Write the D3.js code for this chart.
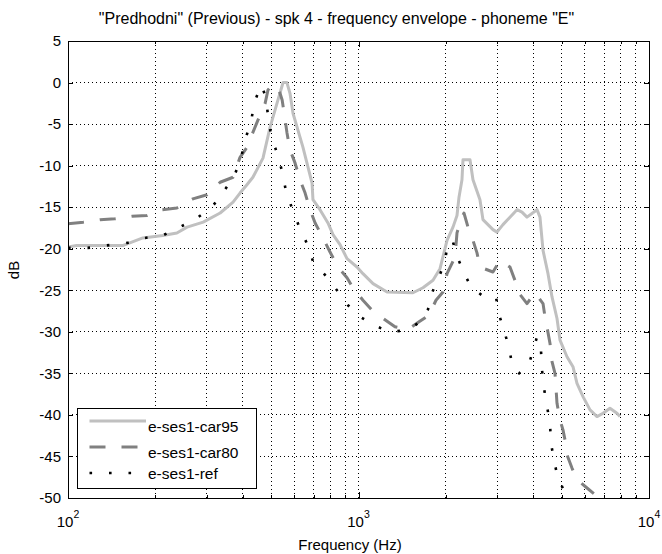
<!DOCTYPE html>
<html>
<head>
<meta charset="utf-8">
<script src="https://cdnjs.cloudflare.com/ajax/libs/d3/7.8.5/d3.min.js"></script>
<style>
body{margin:0;background:#fff;}
svg text{font-family:"Liberation Sans",Arial,Helvetica,sans-serif;fill:#000;}
</style>
</head>
<body>
<svg id="chart" width="662" height="554"></svg>
<script>

/*
 *** Chart data
 */
var chartTitle = '"Predhodni" (Previous) - spk 4 - frequency envelope - phoneme "E"';
var xLabel = "Frequency (Hz)";
var yLabel = "dB";
var seriesNames = ["e-ses1-car95", "e-ses1-car80", "e-ses1-ref"];

var car95Freq = [100,107,129,155,181,212,237,257,292,334,370,391,413,433,469,496,524,550,567,581,
    595,644,692,697,737,785,817,864,913,988,1036,1122,1254,1540,1667,1805,1908,2017,2115,2183,
    2218,2271,2289,2420,2478,2619,2682,2903,2997,3143,3322,3512,3654,3802,4116,4214,4317,4491,4636,4823,
    4939,5220,5474,5651,5927,6266,6622,6945,7339,7758,7945];
var car95Db = [-19.8,-19.6,-19.6,-19.6,-18.7,-18.4,-18.1,-17.4,-16.8,-15.7,-14.4,-13.3,-12.3,-11.4,-9.1,-5.4,-2.5,0,0,-1.3,
    -3.7,-7.8,-12.1,-14.1,-15.3,-16.9,-18.3,-19.5,-21.2,-22.2,-23.0,-24.2,-25.2,-25.3,-24.7,-23.8,-22.4,-19.0,-17.4,-16.0,
    -13.8,-11.7,-9.3,-9.3,-11.7,-14.1,-16.5,-17.7,-18.0,-17.1,-16.2,-15.3,-15.6,-16.2,-15.3,-16.2,-20.2,-23.0,-25.8,-28.4,
    -31.0,-33.0,-34.2,-36.2,-37.8,-39.4,-40.2,-39.8,-39.2,-39.8,-40.2];

var car80Freq = [100,113,129,145,166,187,211,237,269,301,334,370,391,413,433,451,477,488,504,528,
    546,558,567,581,605,629,655,681,709,755,798,850,913,957,1036,1113,1205,1335,1481,1616,
    1749,1848,1954,2017,2149,2183,2253,2307,2382,2478,2558,2619,2903,3069,3322,3456,3540,3802,4050,4317,
    4385,4491,4563,4636,4747,4785,4823,4939,5057,5138,5220,5431,5651,6119,6518,7055,7516,8136];
var car80Db = [-17.0,-16.8,-16.5,-16.4,-16.1,-16.0,-15.3,-15.1,-14.0,-13.5,-12.0,-11.4,-9.0,-7.8,-6.0,-4.5,-2.5,-0.9,-0.3,-0.5,
    -2.1,-4.3,-6.0,-8.1,-9.7,-11.7,-13.3,-15.3,-16.9,-18.7,-20.4,-22.2,-23.5,-24.7,-26.2,-27.4,-28.3,-29.4,-29.7,-28.8,
    -28.0,-26.2,-25.2,-23.0,-21.0,-18.1,-16.5,-15.7,-17.4,-19.0,-20.5,-22.2,-22.8,-21.4,-22.2,-23.8,-25.2,-26.6,-25.3,-26.6,
    -28.2,-30.1,-31.4,-33.6,-35.0,-36.8,-38.6,-40.6,-41.8,-43.0,-44.8,-46.4,-47.8,-48.8,-49.6,-51.5,-50.2,-49.0];

var refFreq = [100,117,136,160,184,212,243,278,313,342,373,394,407,427,437,462,480,488,500,524,
    546,563,590,624,665,697,773,843,920,1004,1131,1274,1481,1628,1735,1791,1893,1985,2033,2115,
    2183,2307,2439,2682,2973,3045,3168,3296,3375,3568,3833,3987,4116,4249,4283,4350,4454,4563,4599,4710,
    4823,5057,5346];
var refDb = [-19.9,-19.9,-19.6,-19.3,-18.7,-18.4,-17.4,-16.3,-15.0,-13.2,-11.3,-9.1,-6.9,-4.7,-2.5,-0.3,-1.7,-4.0,-6.3,-8.5,
    -10.7,-13.1,-15.1,-17.3,-19.4,-21.5,-23.3,-25.0,-26.8,-28.1,-29.2,-30.0,-29.8,-28.8,-27.3,-25.3,-23.4,-21.5,-19.1,-19.2,
    -20.9,-22.9,-24.6,-25.7,-25.8,-27.9,-29.8,-31.9,-33.8,-35.0,-34.2,-32.3,-30.6,-32.3,-34.6,-36.8,-38.9,-41.1,-43.4,-45.5,
    -47.1,-48.9,-52.0];

var yTicks = [5,0,-5,-10,-15,-20,-25,-30,-35,-40,-45,-50];
var xMajorTicks = [100,1000,10000];
var xMajorExponents = ["2","3","4"];
var xMinorTicks = [200,300,400,500,600,700,800,900,2000,3000,4000,5000,6000,7000,8000,9000];


/*
 *** Layout
 */
var plotLeft = 68, plotRight = 649, plotTop = 41, plotBottom = 498;

var svg = d3.select("#chart");

var x = d3.scaleLog().domain([100, 10000]).range([plotLeft, plotRight]);
var y = d3.scaleLinear().domain([-50, 5]).range([plotBottom, plotTop]);


/*
 *** Dotted grid
 */
var grid = svg.append("g")
    .attr("stroke", "#000")
    .attr("stroke-width", 1)
    .attr("stroke-dasharray", "1,3")
    .attr("shape-rendering", "crispEdges");

grid.selectAll(".vgrid")
    .data(xMinorTicks.concat([1000]))
    .enter().append("line")
    .attr("class", "vgrid")
    .attr("x1", function(d){ return x(d); })
    .attr("x2", function(d){ return x(d); })
    .attr("y1", plotTop)
    .attr("y2", plotBottom);

grid.selectAll(".hgrid")
    .data(yTicks.filter(function(d){ return d < 5 && d > -50; }))
    .enter().append("line")
    .attr("class", "hgrid")
    .attr("x1", plotLeft)
    .attr("x2", plotRight)
    .attr("y1", function(d){ return y(d); })
    .attr("y2", function(d){ return y(d); });


/*
 *** Axes: ticks pointing inside, on all four sides
 */
var yAxisLeft = d3.axisLeft(y).tickValues(yTicks).tickSize(-5).tickPadding(7)
    .tickFormat(function(d){ return d; });
var yAxisRight = d3.axisRight(y).tickValues(yTicks).tickSize(-5).tickFormat("");
var xBottomMajor = d3.axisBottom(x).tickValues(xMajorTicks).tickSize(-6).tickFormat("");
var xBottomMinor = d3.axisBottom(x).tickValues(xMinorTicks).tickSize(-3).tickFormat("");
var xTopMajor = d3.axisTop(x).tickValues(xMajorTicks).tickSize(-6).tickFormat("");
var xTopMinor = d3.axisTop(x).tickValues(xMinorTicks).tickSize(-3).tickFormat("");

function drawAxis(axis, tx, ty){
    var g = svg.append("g")
        .attr("transform", "translate(" + tx + "," + ty + ")")
        .attr("shape-rendering", "crispEdges")
        .call(axis);
    g.select(".domain").remove();
    g.selectAll("line").attr("stroke", "#000");
    g.selectAll("text")
        .attr("font-size", "15px")
        .attr("font-family", "'Liberation Sans', Arial, sans-serif");
    return g;
}

drawAxis(yAxisLeft, plotLeft, 0);
drawAxis(yAxisRight, plotRight, 0);
drawAxis(xBottomMajor, 0, plotBottom);
drawAxis(xBottomMinor, 0, plotBottom);
drawAxis(xTopMajor, 0, plotTop);
drawAxis(xTopMinor, 0, plotTop);

// 10^n labels under the bottom axis
var xLabels = svg.selectAll(".xTickLabel")
    .data(xMajorTicks)
    .enter().append("text")
    .attr("class", "xTickLabel")
    .attr("x", function(d){ return x(d); })
    .attr("y", 527)
    .attr("text-anchor", "middle")
    .attr("font-size", "15px");
xLabels.append("tspan").text("10");
xLabels.append("tspan")
    .attr("dy", -9)
    .attr("font-size", "10.5px")
    .text(function(d, i){ return xMajorExponents[i]; });


/*
 *** Data lines
 */
svg.append("clipPath").attr("id", "plotClip")
    .append("rect")
    .attr("x", plotLeft).attr("y", plotTop)
    .attr("width", plotRight - plotLeft).attr("height", plotBottom - plotTop);

var line = d3.line()
    .x(function(d){ return x(d[0]); })
    .y(function(d){ return y(d[1]); });

function zipSeries(freq, db){
    return freq.map(function(f, i){ return [f, db[i]]; });
}

var seriesStyles = [
    {color: "#c0c0c0", width: 3, dash: null},
    {color: "#808080", width: 3, dash: "16,16"},
    {color: "#000000", width: 2.6, dash: "2.6,16.9"}
];
var seriesData = [
    zipSeries(car95Freq, car95Db),
    zipSeries(car80Freq, car80Db),
    zipSeries(refFreq, refDb)
];

svg.append("g")
    .attr("clip-path", "url(#plotClip)")
    .selectAll("path")
    .data(seriesData)
    .enter().append("path")
    .attr("d", line)
    .attr("fill", "none")
    .attr("stroke", function(d, i){ return seriesStyles[i].color; })
    .attr("stroke-width", function(d, i){ return seriesStyles[i].width; })
    .attr("stroke-dasharray", function(d, i){ return seriesStyles[i].dash; })
    .attr("stroke-linejoin", "round");


/*
 *** Frame, title and axis labels
 */
svg.append("rect")
    .attr("x", plotLeft).attr("y", plotTop)
    .attr("width", plotRight - plotLeft).attr("height", plotBottom - plotTop)
    .attr("fill", "none")
    .attr("stroke", "#000")
    .attr("stroke-width", 1)
    .attr("shape-rendering", "crispEdges");

svg.append("text")
    .attr("x", 336.5)
    .attr("y", 24)
    .attr("text-anchor", "middle")
    .attr("font-size", "16px")
    .text(chartTitle);

svg.append("text")
    .attr("x", 350)
    .attr("y", 550)
    .attr("text-anchor", "middle")
    .attr("font-size", "15px")
    .text(xLabel);

svg.append("text")
    .attr("transform", "translate(19,270) rotate(-90)")
    .attr("text-anchor", "middle")
    .attr("font-size", "15px")
    .text(yLabel);


/*
 *** Legend
 */
var legend = svg.append("g");

legend.append("rect")
    .attr("x", 77).attr("y", 408)
    .attr("width", 179).attr("height", 80)
    .attr("fill", "#fff")
    .attr("stroke", "#000")
    .attr("stroke-width", 1)
    .attr("shape-rendering", "crispEdges");

var legendRows = legend.selectAll(".legendRow")
    .data(seriesNames)
    .enter().append("g")
    .attr("class", "legendRow")
    .attr("transform", function(d, i){ return "translate(0," + (421 + i * 26) + ")"; });

legendRows.append("line")
    .attr("x1", 89.5).attr("x2", 146)
    .attr("y1", 0).attr("y2", 0)
    .attr("stroke", function(d, i){ return seriesStyles[i].color; })
    .attr("stroke-width", function(d, i){ return seriesStyles[i].width; })
    .attr("stroke-dasharray", function(d, i){ return seriesStyles[i].dash; });

legendRows.append("text")
    .attr("x", 148)
    .attr("y", function(d, i){ return i < 2 ? 6 : 1; })
    .attr("dy", "0.35em")
    .attr("font-size", "15.5px")
    .text(function(d){ return d; });

</script>
</body>
</html>
